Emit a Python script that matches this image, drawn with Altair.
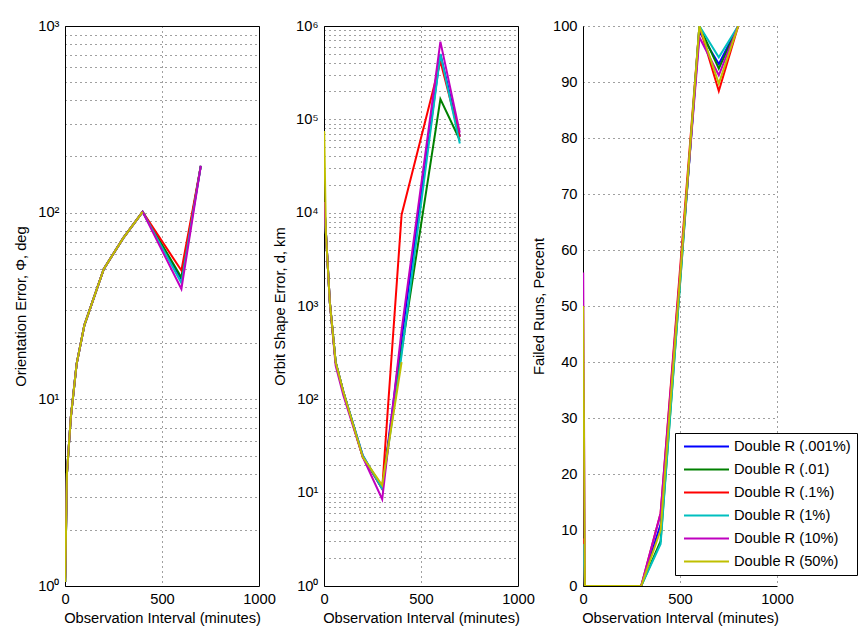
import altair as alt
import pandas as pd

series = ["Double R (.001%)", "Double R (.01)", "Double R (.1%)",
          "Double R (1%)", "Double R (10%)", "Double R (50%)"]
colors = ["#0000FF", "#008000", "#FF0000", "#00BFBF", "#BF00BF", "#BFBF00"]

# observation intervals (minutes)
x_err = [1, 10, 30, 60, 100, 200, 300, 400, 600, 700]
x_fail = [1, 10, 30, 60, 100, 200, 300, 400, 600, 700, 800]

# Orientation error, deg
orient = [
    [1.05, 4, 8, 15.5, 25, 50, 73, 101, 44, 178],
    [1.05, 4, 8, 15.5, 25, 50, 73, 101, 45, 178],
    [1.05, 4, 8, 15.5, 25, 50, 73, 101, 49, 178],
    [1.05, 4, 8, 15.5, 25, 50, 73, 101, 42, 178],
    [1.1, 4, 8, 15.5, 25, 50, 73, 101, 39, 178],
    [1.05, 4, 8, 15.5, 25, 50, 73, 101, None, None],
]

# Orbit shape error, km
shape = [
    [13000, 6000, 1100, 250, 120, 25, 11, 450, 500000, 65000],
    [13000, 6000, 1100, 250, 120, 24, 11.5, 330, 165000, 60000],
    [13000, 6000, 1100, 250, 120, 24, 11, 9500, 420000, 65000],
    [13000, 6000, 1100, 250, 120, 25, 11, 300, 500000, 55000],
    [13000, 6000, 1100, 230, 110, 24, 8.5, 550, 680000, 72000],
    [75000, 6000, 1100, 250, 120, 24, 12, 250, None, None],
]

# Failed runs, percent
failed = [
    [7, 0, 0, 0, 0, 0, 0, 11, 99, 93.2, 100],
    [6, 0, 0, 0, 0, 0, 0, 8, 100, 92.4, 100],
    [8.5, 0, 0, 0, 0, 0, 0, 13, 100, 88.4, 100],
    [7.5, 0, 0, 0, 0, 0, 0, 7.5, 100, 94.4, 100],
    [56, 0, 0, 0, 0, 0, 0, 13, 98, 91.2, 100],
    [50, 0, 0, 0, 0, 0, 0, 10, 100, 89.7, 100],
]


def frame(xs, table):
    rows = []
    for k, (s, vals) in enumerate(zip(series, table)):
        for x, v in zip(xs, vals):
            if v is not None:
                rows.append({"x": x, "y": v, "series": s, "k": k})
    return pd.DataFrame(rows)


FONT = "Liberation Sans"
FS = 14.7
W, H = 194, 560


def log_values(top):
    vals = []
    for e in range(top):
        for m in range(1, 10):
            vals.append(m * 10 ** e)
    vals.append(10 ** top)
    return vals


sup_expr = ("abs(log(datum.value)/LN10 - round(log(datum.value)/LN10)) < 0.001 ? "
            "'10' + ['\u2070','\u00b9','\u00b2','\u00b3','\u2074','\u2075','\u2076']"
            "[round(log(datum.value)/LN10)] : ''")


def x_enc(domain_line=False):
    kw = dict(values=[0, 500, 1000], title="Observation Interval (minutes)", format="d",
              labelFlush=False, ticks=False, labelPadding=5,
              minExtent=20, maxExtent=20, titlePadding=4)
    if domain_line:
        kw.update(domain=True, domainColor="black")
    return alt.X("x:Q", scale=alt.Scale(domain=[0, 1000], nice=False), axis=alt.Axis(**kw))


color_none = alt.Color("series:N", scale=alt.Scale(domain=series, range=colors), legend=None)


def log_panel(df, top, title):
    return alt.Chart(df).mark_line(strokeWidth=2, clip=True).encode(
        x=x_enc(),
        y=alt.Y("y:Q", scale=alt.Scale(type="log", domain=[1, 10 ** top], nice=False),
                axis=alt.Axis(values=log_values(top), labelExpr=sup_expr, title=title,
                              ticks=False, labelOverlap=False, labelPadding=6,
                              minExtent=30, maxExtent=30, titlePadding=7)),
        color=color_none,
        detail="k:N",
    ).properties(width=W, height=H)


left = log_panel(frame(x_err, orient), 3, "Orientation Error, \u03a6, deg")
mid = log_panel(frame(x_err, shape), 6, "Orbit Shape Error, d, km")

right = alt.Chart(frame(x_fail, failed), view=alt.ViewBackground(stroke="transparent")).mark_line(
    strokeWidth=2, clip=True).encode(
    x=x_enc(True),
    y=alt.Y("y:Q", scale=alt.Scale(domain=[0, 100], nice=False),
            axis=alt.Axis(values=list(range(0, 101, 10)), title="Failed Runs, Percent",
                          ticks=False, labelPadding=6, domain=True, domainColor="black",
                          minExtent=30, maxExtent=30, titlePadding=7)),
    color=alt.Color("series:N", scale=alt.Scale(domain=series, range=colors),
                    legend=alt.Legend(orient="none", legendX=92, legendY=407, title=None,
                                      symbolType="stroke", symbolSize=2025,
                                      symbolOffset=2, symbolStrokeWidth=2,
                                      clipHeight=15,
                                      labelFontSize=FS, labelFont=FONT,
                                      labelColor="black", strokeColor="black",
                                      fillColor="white", padding=6, rowPadding=7,
                                      labelOffset=4)),
    detail="k:N",
).properties(width=W, height=H)

chart = alt.hconcat(left, mid, right, spacing=65, bounds="flush").resolve_legend(
    color="independent"
).properties(
    padding={"left": 12, "top": 17, "right": 3, "bottom": 2},
    background="white",
).configure_view(stroke="black", strokeWidth=1).configure_axis(
    labelFont=FONT, titleFont=FONT, labelFontSize=FS, titleFontSize=FS,
    titleFontWeight="normal", labelColor="black", titleColor="black",
    grid=True, gridColor="black", gridOpacity=0.75, gridDash=[1, 4], gridWidth=1,
    domain=False,
)

chart.save("out.html", embed_options={"renderer": "svg", "actions": False})
